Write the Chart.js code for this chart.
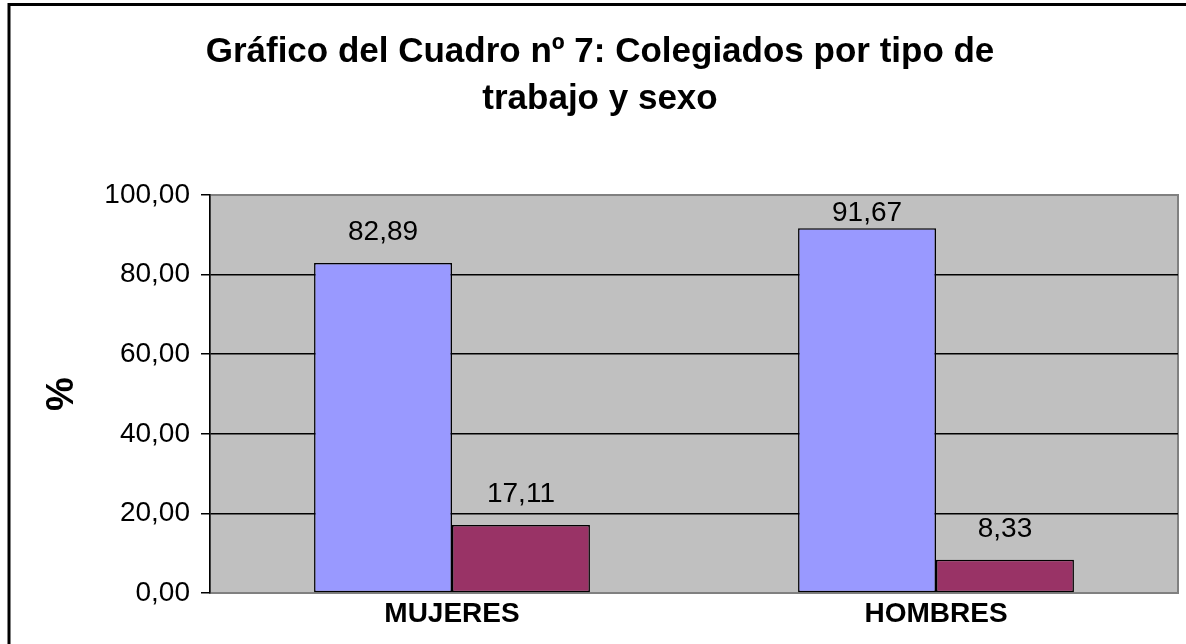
<!DOCTYPE html>
<html>
<head>
<meta charset="utf-8">
<script src="https://cdn.jsdelivr.net/npm/chart.js@4.4.0/dist/chart.umd.min.js"></script>
<style>
  html, body { margin: 0; padding: 0; background: #fff; }
  #wrap { width: 1186px; height: 644px; }
</style>
</head>
<body>
<div id="wrap"><canvas id="grafico"></canvas></div>
<script>
// Cuadro nº 7 - colegiados por tipo de trabajo y sexo (%)
const categorias = ['MUJERES', 'HOMBRES'];
const serie1 = [82.89, 91.67];
const serie2 = [17.11, 8.33];
const nombresSeries = ['Serie 1', 'Serie 2'];
const titulo = ['Gráfico del Cuadro nº 7: Colegiados por tipo de', 'trabajo y sexo'];

const FONT = "'Liberation Sans', Arial, sans-serif";

function coma(v) {
    return Number(v).toFixed(2).replace('.', ',');
}

// fondo gris del area de trazado + marco exterior
const fondo = {
    id: 'fondo',
    beforeDraw(chart) {
        const c = chart.ctx, a = chart.chartArea;
        c.save();
        c.fillStyle = '#fff';
        c.fillRect(0, 0, chart.width, chart.height);
        c.fillStyle = '#C0C0C0';
        c.fillRect(a.left, a.top, a.right - a.left, a.bottom - a.top);
        c.strokeStyle = '#808080';
        c.lineWidth = 2;
        c.strokeRect(a.left, a.top, a.right - a.left, a.bottom - a.top);
        c.strokeStyle = '#000';
        c.lineWidth = 3;
        c.strokeRect(9, 4.5, chart.width + 20, chart.height + 20);
        c.restore();
    }
};

// etiquetas de valor encima de cada barra
const etiquetas = {
    id: 'etiquetas',
    afterDatasetsDraw(chart) {
        const c = chart.ctx, a = chart.chartArea;
        c.save();
        c.font = '28px ' + FONT;
        c.fillStyle = '#000';
        c.textAlign = 'center';
        c.textBaseline = 'middle';
        chart.data.datasets.forEach((ds, i) => {
            chart.getDatasetMeta(i).data.forEach((bar, j) => {
                const y = Math.max(bar.y - 31, a.top + 18);
                c.fillText(coma(ds.data[j]), bar.x, y);
            });
        });
        c.restore();
    }
};

new Chart(document.getElementById('grafico'), {
    type: 'bar',
    data: {
        labels: categorias,
        datasets: [
            {
                label: nombresSeries[0],
                data: serie1,
                backgroundColor: '#9999FF',
                borderColor: '#000',
                borderWidth: 1.5,
                borderSkipped: false
            },
            {
                label: nombresSeries[1],
                data: serie2,
                backgroundColor: '#993366',
                borderColor: '#000',
                borderWidth: 1.5,
                borderSkipped: false
            }
        ]
    },
    options: {
        responsive: true,
        maintainAspectRatio: false,
        animation: false,
        categoryPercentage: 0.57,
        barPercentage: 1,
        layout: { padding: { left: 22, right: 8, top: 0, bottom: 0 } },
        plugins: {
            legend: { display: false },
            tooltip: { enabled: false },
            title: {
                display: true,
                text: titulo,
                color: '#000',
                font: { family: FONT, size: 35, weight: 'bold', lineHeight: 1.343 },
                padding: { top: 29, bottom: 72 }
            }
        },
        scales: {
            x: {
                grid: { display: false, drawTicks: false },
                border: { display: false },
                ticks: {
                    color: '#000',
                    padding: 4,
                    font: { family: FONT, size: 28, weight: 'bold' }
                },
                afterFit(scale) { scale.height = 51; }
            },
            y: {
                min: 0,
                max: 100,
                ticks: {
                    stepSize: 20,
                    color: '#000',
                    padding: 11,
                    font: { family: FONT, size: 28 },
                    callback: (v) => coma(v)
                },
                grid: {
                    color: (ctx) => (ctx.tick && (ctx.tick.value === 0 || ctx.tick.value === 100)) ? '#808080' : '#000',
                    tickColor: '#000',
                    tickLength: 9,
                    lineWidth: 1.5
                },
                border: { display: true, color: '#000', width: 1.5 },
                title: {
                    display: true,
                    text: '%',
                    color: '#000',
                    padding: { top: 18, bottom: 0 },
                    font: { family: FONT, size: 38, weight: 'bold' }
                },
                afterFit(scale) { scale.width = 188; }
            }
        }
    },
    plugins: [fondo, etiquetas]
});
</script>
</body>
</html>
